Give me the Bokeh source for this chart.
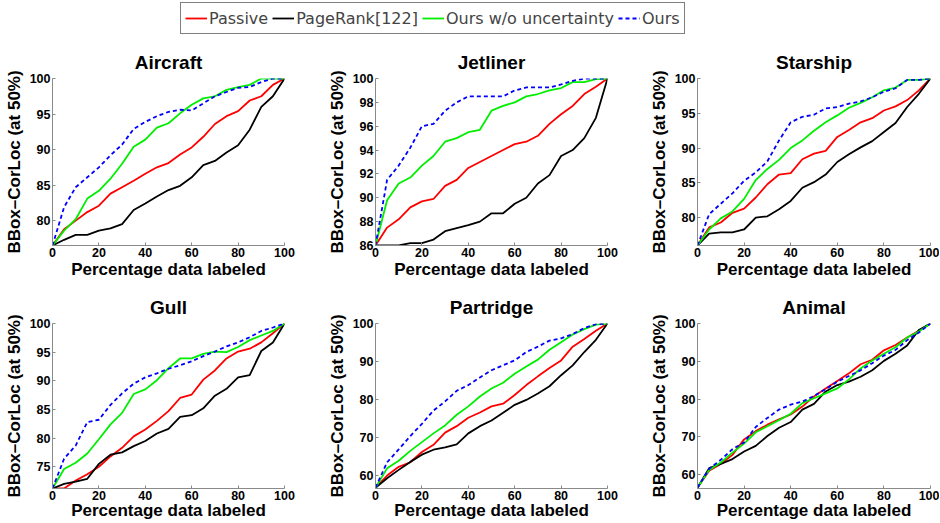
from bokeh.plotting import figure
from bokeh.layouts import column, row
from bokeh.models import Range1d, FixedTicker, Legend, LegendItem
from bokeh.embed import file_html
from bokeh.resources import INLINE

pct = [0, 5, 10, 15, 20, 25, 30, 35, 40, 45, 50, 55, 60, 65, 70, 75, 80, 85, 90, 95, 100]
series_names = ["Passive", "PageRank[122]", "Ours w/o uncertainty", "Ours"]

aircraft_passive = [76.5, 78.8, 80.0, 81.2, 82.1, 83.8, 84.7, 85.6, 86.6, 87.5, 88.1, 89.3, 90.3, 91.8, 93.6, 94.7, 95.4, 96.9, 97.5, 99.1, 100]
aircraft_pagerank = [76.5, 77.3, 78.0, 78.0, 78.6, 78.9, 79.5, 81.5, 82.4, 83.4, 84.3, 84.9, 86.1, 87.8, 88.4, 89.6, 90.6, 92.8, 96.0, 97.5, 100]
aircraft_nounc = [76.5, 78.6, 80.2, 83.1, 84.2, 85.9, 88.0, 90.4, 91.4, 93.1, 93.7, 95.1, 96.3, 97.2, 97.5, 98.4, 98.8, 99.1, 100, 100, 100]
aircraft_ours = [76.5, 81.9, 84.7, 86.1, 87.5, 89.2, 90.7, 92.9, 93.9, 94.7, 95.3, 95.6, 95.5, 96.5, 97.5, 98.1, 98.7, 98.8, 99.5, 100, 100]

jetliner_passive = [86, 87.5, 88.2, 89.2, 89.7, 89.9, 91.0, 91.5, 92.5, 93.0, 93.5, 94.0, 94.5, 94.7, 95.2, 96.2, 97.0, 97.7, 98.7, 99.3, 100]
jetliner_pagerank = [86, 86, 86, 86.2, 86.2, 86.5, 87.2, 87.45, 87.7, 88.0, 88.7, 88.7, 89.5, 90.0, 91.2, 91.9, 93.5, 94.0, 95.0, 96.7, 100]
jetliner_nounc = [86, 89.8, 91.2, 91.7, 92.7, 93.5, 94.7, 95.0, 95.5, 95.7, 97.3, 97.7, 98.0, 98.5, 98.7, 99.0, 99.2, 99.7, 99.7, 99.95, 100]
jetliner_ours = [86, 91.5, 92.7, 94.2, 96.0, 96.2, 97.3, 98.0, 98.5, 98.5, 98.5, 98.5, 99.0, 99.25, 99.25, 99.25, 99.5, 99.8, 100, 100, 100]

starship_passive = [76, 78.6, 79.3, 80.7, 81.3, 82.9, 84.8, 86.2, 86.4, 88.4, 89.2, 89.6, 91.6, 92.6, 93.7, 94.3, 95.4, 96.0, 96.9, 98.3, 100]
starship_pagerank = [76, 77.7, 77.9, 77.9, 78.3, 80.0, 80.2, 81.2, 82.4, 84.3, 85.1, 86.2, 88.0, 89.1, 90.1, 91.0, 92.3, 93.6, 95.9, 97.8, 100]
starship_nounc = [76, 78.3, 79.9, 80.9, 82.7, 85.4, 87.0, 88.3, 90.0, 91.1, 92.5, 93.7, 94.7, 95.8, 96.5, 97.3, 98.3, 98.7, 99.8, 99.8, 100]
starship_ours = [76, 80.5, 82.0, 83.5, 85.3, 86.5, 88.1, 91.1, 93.7, 94.5, 94.8, 95.7, 95.9, 96.4, 96.7, 97.3, 98.1, 98.6, 99.8, 99.8, 100]

gull_passive = [71.2, 71.2, 72.6, 73.7, 75.0, 76.8, 78.3, 80.3, 81.5, 83.0, 84.7, 87.0, 87.6, 90.2, 91.8, 93.9, 95.1, 95.6, 96.7, 98.3, 100]
gull_pagerank = [71.2, 72.0, 72.4, 72.9, 75.5, 77.1, 77.5, 78.6, 79.5, 80.8, 81.6, 83.7, 84.0, 85.2, 87.4, 88.6, 90.6, 91.0, 95.2, 96.7, 100]
gull_nounc = [71.2, 74.6, 75.7, 77.3, 79.8, 82.4, 84.4, 87.7, 88.5, 90.1, 92.2, 93.9, 93.9, 94.7, 95.1, 95.0, 95.9, 97.1, 97.9, 98.7, 100]
gull_ours = [71.2, 76.4, 78.7, 82.8, 83.2, 85.8, 87.8, 89.5, 90.6, 91.3, 92.1, 92.7, 93.4, 94.3, 95.1, 96.0, 96.7, 97.6, 98.7, 99.3, 100]

partridge_passive = [56.8, 60.0, 62.3, 63.5, 66.2, 68.1, 71.3, 73.0, 75.2, 76.6, 78.2, 78.9, 81.2, 83.8, 86.1, 88.3, 90.3, 93.9, 95.9, 98.1, 100]
partridge_pagerank = [56.8, 59.3, 61.5, 63.6, 65.5, 66.8, 67.4, 68.2, 71.1, 73.0, 74.5, 76.5, 78.6, 79.9, 81.6, 83.5, 86.4, 89.0, 92.5, 95.7, 100]
partridge_nounc = [56.8, 61.9, 63.9, 66.5, 68.8, 71.1, 73.2, 76.0, 78.2, 80.8, 82.9, 84.4, 86.8, 88.7, 90.5, 93.1, 95.1, 97.1, 98.5, 99.7, 100]
partridge_ours = [56.8, 63.5, 66.9, 70.4, 73.6, 77.1, 79.5, 82.3, 83.8, 85.8, 87.7, 89.0, 90.3, 92.5, 93.9, 95.5, 96.1, 97.2, 98.8, 99.8, 100]

animal_passive = [56.5, 61.0, 62.8, 65.2, 69.3, 71.5, 73.2, 74.6, 75.9, 78.0, 80.7, 82.8, 84.8, 86.8, 89.2, 90.4, 92.9, 94.3, 96.3, 98.1, 100]
animal_pagerank = [56.5, 61.7, 62.8, 64.1, 66.1, 67.6, 70.2, 72.4, 73.9, 77.2, 78.7, 82.0, 83.7, 84.6, 85.9, 87.6, 90.1, 92.0, 94.2, 98.3, 100]
animal_nounc = [56.5, 61.2, 63.2, 65.8, 68.2, 71.2, 72.8, 74.4, 76.1, 78.9, 80.2, 81.5, 82.8, 85.2, 88.1, 90.2, 92.0, 93.7, 96.3, 97.9, 100]
animal_ours = [56.5, 61.5, 63.9, 66.7, 68.5, 72.6, 75.0, 77.2, 78.5, 79.3, 80.8, 82.6, 84.6, 86.1, 87.6, 89.5, 91.5, 93.0, 95.6, 97.6, 100]

x_ticks = [0, 20, 40, 60, 80, 100]

panels = [
    ("Aircraft", (76.5, 100), [80, 85, 90, 95, 100],
     [aircraft_passive, aircraft_pagerank, aircraft_nounc, aircraft_ours]),
    ("Jetliner", (86, 100), [86, 88, 90, 92, 94, 96, 98, 100],
     [jetliner_passive, jetliner_pagerank, jetliner_nounc, jetliner_ours]),
    ("Starship", (76, 100), [80, 85, 90, 95, 100],
     [starship_passive, starship_pagerank, starship_nounc, starship_ours]),
    ("Gull", (71.2, 100), [75, 80, 85, 90, 95, 100],
     [gull_passive, gull_pagerank, gull_nounc, gull_ours]),
    ("Partridge", (56.6, 100), [60, 70, 80, 90, 100],
     [partridge_passive, partridge_pagerank, partridge_nounc, partridge_ours]),
    ("Animal", (56.3, 100), [60, 70, 80, 90, 100],
     [animal_passive, animal_pagerank, animal_nounc, animal_ours]),
]

colors = ["#ff0000", "#000000", "#00ee00", "#0000ff"]
dashes = ["solid", "solid", "solid", "4 3"]
FONT = "Liberation Sans"
AX = "#8a8a8a"

# per-column (width, border left, border right); per-row (height, top, bottom, x-label standoff)
col_geom = [(310, 52, 26), (310, 65, 13), (319, 77, 9)]
row_geom = [(249, 42, 40, 0), (237, 38, 32, -2)]


def make_panel(i, title, yr, yt, data):
    w, bl, br = col_geom[i % 3]
    h, bt, bb, xls = row_geom[i // 3]
    p = figure(width=w, height=h, output_backend="svg", toolbar_location=None,
               x_range=Range1d(0, 100), y_range=Range1d(yr[0], yr[1]),
               min_border_left=bl, min_border_right=br,
               min_border_top=bt, min_border_bottom=bb,
               title=title)
    p.outline_line_color = None
    p.grid.visible = False
    p.background_fill_color = "white"
    p.border_fill_color = "white"
    p.title.align = "center"
    p.title.text_font = FONT
    p.title.text_font_size = "19px"
    p.title.text_font_style = "bold"
    p.title.text_color = "black"
    p.title.standoff = 11
    for s, col, d in zip(data, colors, dashes):
        p.line(pct, s, line_color=col, line_width=1.8, line_dash=d)
    for ax in (p.xaxis[0], p.yaxis[0]):
        ax.axis_line_color = AX
        ax.axis_line_width = 1
        ax.major_tick_line_color = AX
        ax.major_tick_in = 3
        ax.major_tick_out = 0
        ax.minor_tick_line_color = None
        ax.major_label_text_font = FONT
        ax.major_label_text_font_size = "12.5px"
        ax.major_label_text_font_style = "bold"
        ax.major_label_text_color = "black"
        ax.major_label_standoff = 2
        ax.axis_label_text_font = FONT
        ax.axis_label_text_font_size = "17px"
        ax.axis_label_text_font_style = "bold"
        ax.axis_label_text_color = "black"
    p.xaxis.ticker = FixedTicker(ticks=x_ticks)
    p.yaxis.ticker = FixedTicker(ticks=yt)
    p.xaxis.axis_label = "Percentage data labeled"
    p.xaxis.axis_label_standoff = xls
    p.yaxis.axis_label = "BBox\u2013CorLoc (at 50%)"
    p.yaxis.axis_label_standoff = 3
    return p


figs = [make_panel(i, *pn) for i, pn in enumerate(panels)]

# legend strip
lg = figure(width=939, height=36, output_backend="svg", toolbar_location=None,
            x_range=Range1d(1000, 1100), y_range=Range1d(0, 1),
            min_border=0, x_axis_type=None, y_axis_type=None)
lg.outline_line_color = None
lg.grid.visible = False
items = []
for name, s, col, d in zip(series_names,
                           [aircraft_passive, aircraft_pagerank, aircraft_nounc, aircraft_ours],
                           colors, dashes):
    rr = lg.line(pct, s, line_color=col, line_width=1.8, line_dash=d)
    items.append(LegendItem(label=name, renderers=[rr]))
leg = Legend(items=items, orientation="horizontal", location=(180, 2),
             label_text_font="DejaVu Sans", label_text_font_size="16px",
             glyph_width=22, glyph_height=22, label_height=22, label_standoff=2,
             spacing=4, padding=4, margin=0,
             border_line_color="black", border_line_width=1,
             background_fill_color="white", background_fill_alpha=1.0)
lg.add_layout(leg, "center")

layout = column(lg, row(*figs[:3]), row(*figs[3:]))
open("out.html", "w").write(file_html(layout, INLINE))
